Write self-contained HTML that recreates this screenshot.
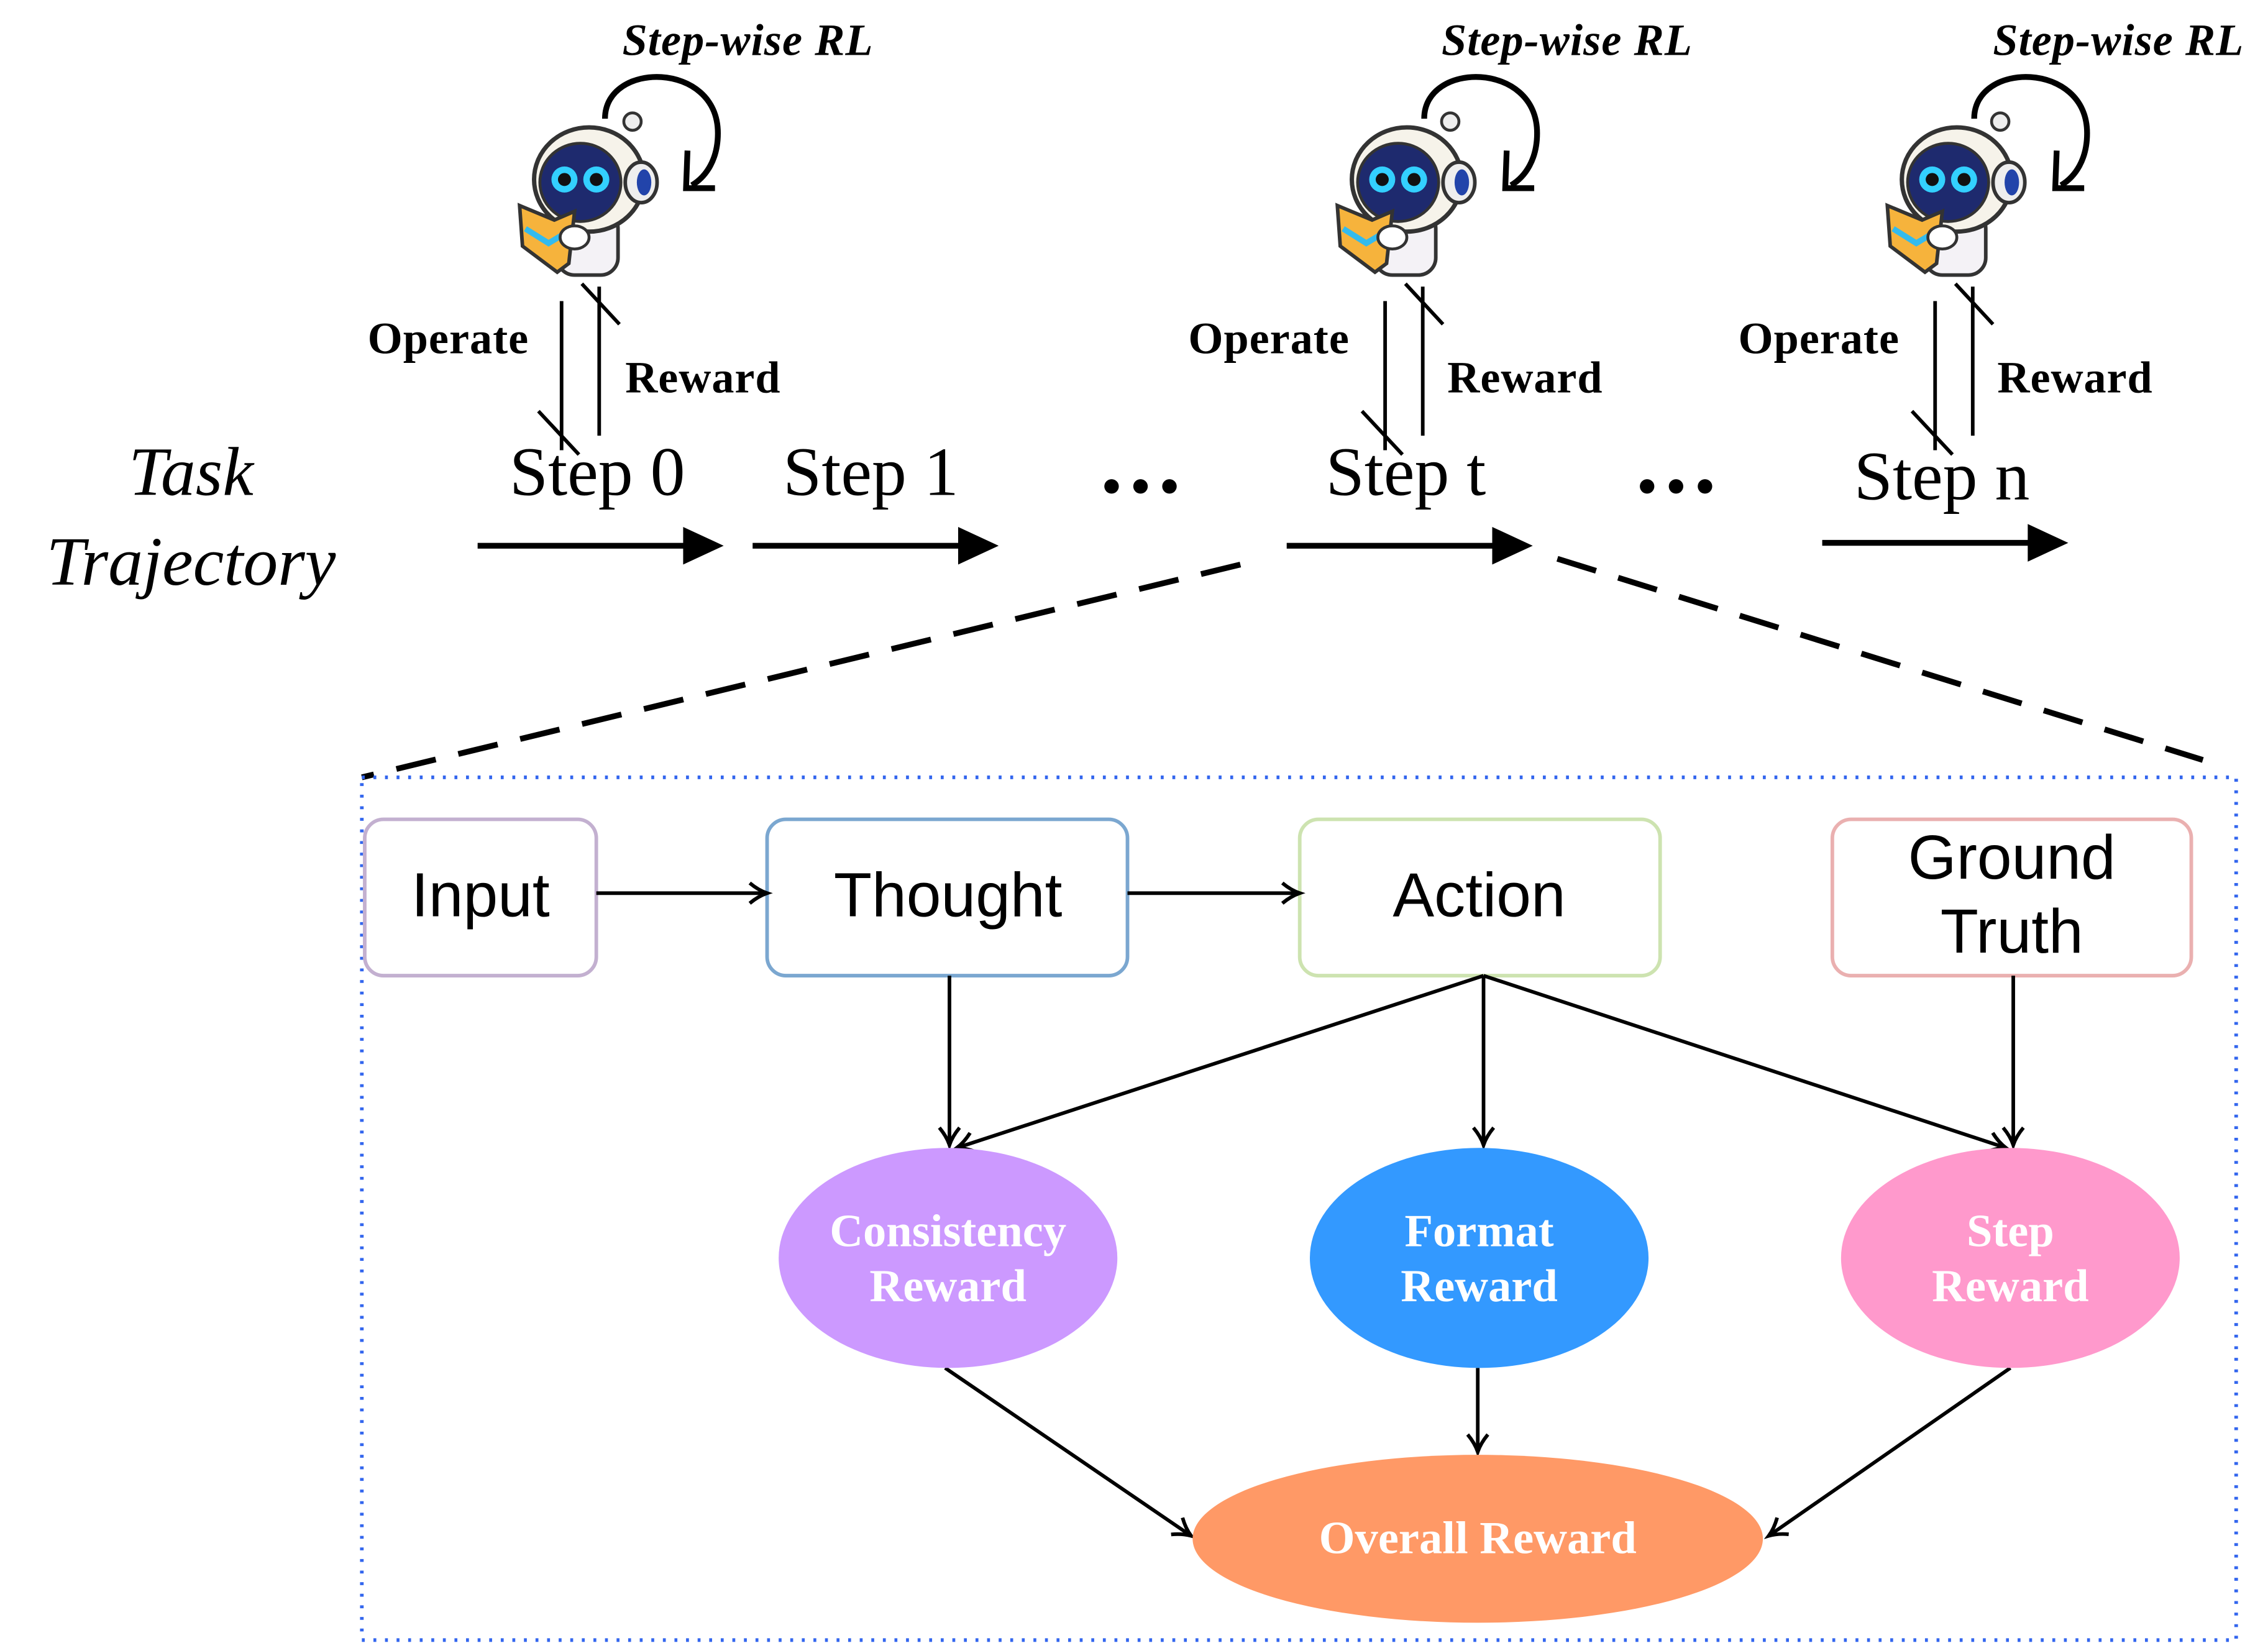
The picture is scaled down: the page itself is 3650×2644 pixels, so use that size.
<!DOCTYPE html>
<html><head><meta charset="utf-8"><style>html,body{margin:0;padding:0;background:#fff}svg{display:block}</style></head><body>
<svg width="3650" height="2644" viewBox="0 0 1567 1135" preserveAspectRatio="none" xmlns="http://www.w3.org/2000/svg">
<defs>
<marker id="open" markerWidth="20" markerHeight="20" refX="14" refY="8" orient="auto" markerUnits="userSpaceOnUse"><path d="M2,1 Q8,6 14,8 Q8,10 2,15" fill="none" stroke="#000" stroke-width="2.5"/></marker>
<g id="robot">
<circle cx="32" cy="-44" r="6" fill="#eee" stroke="#333" stroke-width="2"/>
<rect x="-20" y="18" width="42" height="44" rx="12" fill="#f4f2f6" stroke="#333" stroke-width="2.5"/>
<ellipse cx="2" cy="-4" rx="38" ry="36" fill="#f6f3ea" stroke="#333" stroke-width="3"/>
<ellipse cx="-4" cy="-2" rx="28" ry="27" fill="#1e2a6e" stroke="#333" stroke-width="2"/>
<circle cx="-15" cy="-4" r="9" fill="#33d0ff"/><circle cx="-15" cy="-4" r="4.5" fill="#111"/>
<circle cx="7" cy="-4" r="9" fill="#33d0ff"/><circle cx="7" cy="-4" r="4.5" fill="#111"/>
<ellipse cx="38" cy="-2" rx="11" ry="14" fill="#eee" stroke="#333" stroke-width="2.5"/>
<ellipse cx="40" cy="-2" rx="5" ry="9" fill="#2244aa"/>
<path d="M-46,14 L-22,24 L-8,18 L-12,54 L-20,60 L-44,42 Z" fill="#f6b33c" stroke="#333" stroke-width="2.5"/>
<path d="M-42,30 L-26,40 L-16,34" fill="none" stroke="#33bbee" stroke-width="4"/>
<ellipse cx="-8" cy="36" rx="10" ry="8" fill="#fff" stroke="#333" stroke-width="2"/>
</g>
<g id="loop"><path d="M0,24 C0,-16 78,-16 78,34 C78,52 70,64 60,70" fill="none" stroke="#000" stroke-width="4"/><path d="M57,46 L56,72 L76,72" fill="none" stroke="#000" stroke-width="4"/></g>
<g id="opr"><line x1="0" y1="0" x2="0" y2="103" stroke="#000" stroke-width="2.5"/><line x1="-16" y1="76" x2="12" y2="106" stroke="#000" stroke-width="2.5"/>
<line x1="26" y1="93" x2="26" y2="-10" stroke="#000" stroke-width="2.5"/><line x1="14" y1="-12" x2="40" y2="16" stroke="#000" stroke-width="2.5"/></g>
</defs>
<rect width="1567" height="1135" fill="#fff"/>
<g font-family="Liberation Serif, serif" font-weight="bold" font-style="italic" font-size="31">
<text x="430" y="38" textLength="173">Step-wise RL</text><text x="996" y="38" textLength="173">Step-wise RL</text><text x="1377" y="38" textLength="173">Step-wise RL</text></g>
<use href="#loop" x="418" y="58"/><use href="#loop" x="984" y="58"/><use href="#loop" x="1364" y="58"/>
<use href="#robot" x="405" y="128"/><use href="#robot" x="970" y="128"/><use href="#robot" x="1350" y="128"/>
<use href="#opr" x="388" y="208"/><use href="#opr" x="957" y="208"/><use href="#opr" x="1337" y="208"/>
<g font-family="Liberation Serif, serif" font-weight="bold" font-size="31">
<text x="254" y="244" textLength="111">Operate</text><text x="432" y="271" textLength="107">Reward</text>
<text x="821" y="244" textLength="111">Operate</text><text x="1000" y="271" textLength="107">Reward</text>
<text x="1201" y="244" textLength="111">Operate</text><text x="1380" y="271" textLength="107">Reward</text></g>
<g font-family="Liberation Serif, serif" font-size="48">
<text x="352" y="342">Step 0</text><text x="541" y="342">Step 1</text><text x="916" y="342">Step t</text><text x="1281" y="345">Step n</text>
<text x="132" y="342" text-anchor="middle" font-style="italic" font-size="48">Task</text><text x="132" y="404" text-anchor="middle" font-style="italic" font-size="48">Trajectory</text></g>
<g fill="#000"><circle cx="768" cy="336" r="5"/><circle cx="788" cy="336" r="5"/><circle cx="808" cy="336" r="5"/>
<circle cx="1138" cy="336" r="5"/><circle cx="1158" cy="336" r="5"/><circle cx="1178" cy="336" r="5"/></g>
<g stroke="#000" stroke-width="4"><line x1="330" y1="377" x2="478" y2="377"/><line x1="520" y1="377" x2="668" y2="377"/><line x1="889" y1="377" x2="1037" y2="377"/><line x1="1259" y1="375" x2="1407" y2="375"/></g>
<g fill="#000"><path d="M472,364 L500,377 L472,390Z"/><path d="M662,364 L690,377 L662,390Z"/><path d="M1031,364 L1059,377 L1031,390Z"/><path d="M1401,362 L1429,375 L1401,388Z"/></g>
<g stroke="#000" stroke-width="4" stroke-dasharray="28,16" fill="none"><line x1="857" y1="390" x2="250" y2="537"/><line x1="1076" y1="386" x2="1522" y2="525"/></g>
<rect x="250" y="537" width="1295" height="596" fill="none" stroke="#3366ee" stroke-width="2.5" stroke-dasharray="2,6"/>
<g stroke-width="2.5" fill="#fff">
<rect x="252" y="566" width="160" height="108" rx="13" stroke="#c3b0d0"/>
<rect x="530" y="566" width="249" height="108" rx="13" stroke="#7ba7d0"/>
<rect x="898" y="566" width="249" height="108" rx="13" stroke="#cde3b0"/>
<rect x="1266" y="566" width="248" height="108" rx="13" stroke="#eab0b0"/></g>
<g font-family="Liberation Sans, sans-serif" font-size="43" text-anchor="middle">
<text x="332" y="633">Input</text><text x="655" y="633">Thought</text><text x="1022" y="633">Action</text>
<text x="1390" y="607">Ground</text><text x="1390" y="658">Truth</text></g>
<g stroke="#000" stroke-width="2.5" fill="none" marker-end="url(#open)">
<line x1="412" y1="617" x2="530" y2="617"/><line x1="779" y1="617" x2="898" y2="617"/>
<line x1="656" y1="674" x2="656" y2="791"/><line x1="1025" y1="674" x2="1025" y2="791"/>
<line x1="1025" y1="674" x2="661" y2="793"/><line x1="1025" y1="674" x2="1386" y2="793"/>
<line x1="1391" y1="674" x2="1391" y2="791"/>
<line x1="1021" y1="945" x2="1021" y2="1003"/>
<line x1="653" y1="945" x2="823" y2="1061"/><line x1="1389" y1="945" x2="1222" y2="1061"/></g>
<ellipse cx="655" cy="869" rx="117" ry="76" fill="#cc99ff"/>
<ellipse cx="1022" cy="869" rx="117" ry="76" fill="#3399ff"/>
<ellipse cx="1389" cy="869" rx="117" ry="76" fill="#ff99cc"/>
<ellipse cx="1021" cy="1063" rx="197" ry="58" fill="#ff9966"/>
<g font-family="Liberation Serif, serif" font-weight="bold" font-size="32" fill="#fff" text-anchor="middle">
<text x="655" y="861">Consistency</text><text x="655" y="899">Reward</text>
<text x="1022" y="861">Format</text><text x="1022" y="899">Reward</text>
<text x="1389" y="861">Step</text><text x="1389" y="899">Reward</text>
<text x="1021" y="1073">Overall Reward</text></g>
</svg>
</body></html>
